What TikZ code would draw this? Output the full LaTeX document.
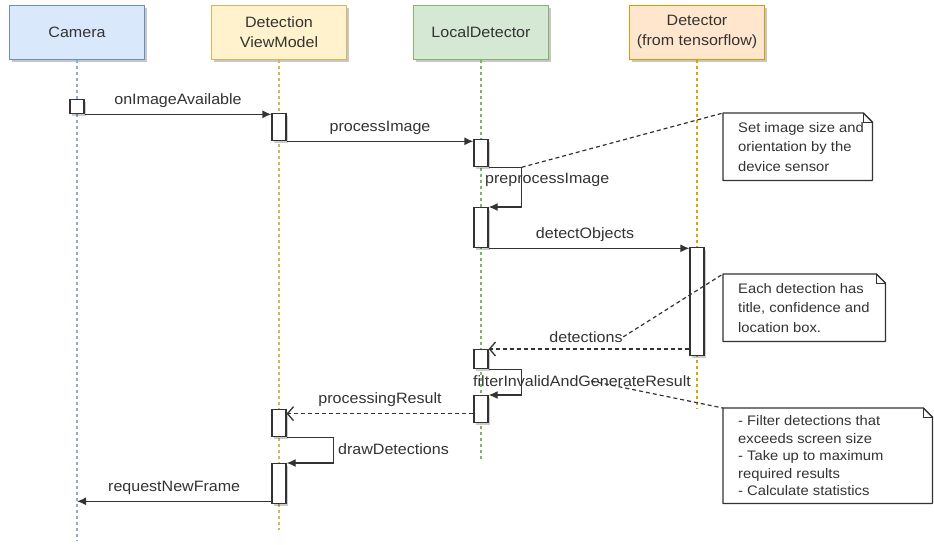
\documentclass[tikz,border=0pt]{standalone}
\usepackage{fontspec}
\setmainfont[FakeStretch=1.07]{Liberation Sans}
\usetikzlibrary{arrows.meta,shadows,calc,backgrounds}
\definecolor{ink}{HTML}{333333}
\definecolor{camfill}{HTML}{DAE8FC}\definecolor{camline}{HTML}{6C8EBF}
\definecolor{vmfill}{HTML}{FFF2CC}\definecolor{vmline}{HTML}{D6B656}
\definecolor{ldfill}{HTML}{D5E8D4}\definecolor{ldline}{HTML}{82B366}
\definecolor{dtfill}{HTML}{FFE6CC}\definecolor{dtline}{HTML}{D79B00}
\newcommand\mynote[1]{%
  \begin{scope}[on background layer]
    \fill[black,opacity=0.18] ([shift={(2.5pt,-2.5pt)}]#1.north west) -- ([shift={(-6.5pt,-2.5pt)}]#1.north east) -- ([shift={(2.5pt,-11.5pt)}]#1.north east) -- ([shift={(2.5pt,-2.5pt)}]#1.south east) -- ([shift={(2.5pt,-2.5pt)}]#1.south west) -- cycle;
    \fill[white] (#1.north west) -- ([xshift=-9pt]#1.north east) -- ([yshift=-9pt]#1.north east) -- (#1.south east) -- (#1.south west) -- cycle;
  \end{scope}
  \draw[ink, line width=1.3pt, line join=round] (#1.north west) -- ([xshift=-9pt]#1.north east) -- ([yshift=-9pt]#1.north east) -- (#1.south east) -- (#1.south west) -- cycle;
  \draw[ink, line width=0.8pt] ([xshift=-9pt]#1.north east) -- ([shift={(-9pt,-9pt)}]#1.north east) -- ([yshift=-9pt]#1.north east);
}
\tikzset{
  hdbox/.style={draw, line width=1pt, minimum width=135pt, minimum height=54pt, align=center, text=ink,
    font=\fontsize{15}{20}\selectfont,
    drop shadow={shadow xshift=2.5pt, shadow yshift=-2.5pt, opacity=0.22, fill=black}},
  actbox/.style={draw=ink, fill=white, line width=1.3pt, minimum width=14pt, inner sep=0pt, anchor=north,
    drop shadow={shadow xshift=2pt, shadow yshift=-2pt, opacity=0.2, fill=black}},
  msg/.style={draw=ink, line width=1.3pt, -{Latex[length=9pt,width=8pt]}},
  ret/.style={draw=ink, line width=1.3pt, dash pattern=on 4pt off 3pt, -{Straight Barb[length=6pt,width=14pt]}},
  lbl/.style={text=ink, font=\fontsize{15}{18}\selectfont, inner sep=0pt},
  lifeline/.style={line width=1.3pt, dash pattern=on 3pt off 3pt},
  notelink/.style={draw=ink, line width=1.2pt, dash pattern=on 4pt off 3pt},
  notebox/.style={anchor=north west, inner sep=0pt},
  notetext/.style={anchor=west, inner sep=0pt, align=left, text=ink, xshift=15pt},
}
\begin{document}
\begin{tikzpicture}[x=1pt, y=-1pt]
\useasboundingbox[fill=white] (0,0) rectangle (934,544);

% heads
\node[hdbox, fill=camfill, draw=camline] (cam) at (77,32) {Camera};
\node[hdbox, fill=vmfill, draw=vmline] (vm) at (279,32) {Detection\\ViewModel};
\node[hdbox, fill=ldfill, draw=ldline] (ld) at (481,32) {LocalDetector};
\node[hdbox, fill=dtfill, draw=dtline] (dt) at (697,32) {Detector\\(from tensorflow)};

% lifelines
\coordinate (camEnd) at (77,540);
\coordinate (vmEnd) at (279,530);
\coordinate (ldEnd) at (481,460);
\coordinate (dtEnd) at (697,408);
\draw[lifeline, camline!75] (cam) -- (camEnd);
\draw[lifeline, vmline] (vm) -- (vmEnd);
\draw[lifeline, ldline] (ld) -- (ldEnd);
\draw[lifeline, dtline!90!yellow] (dt) -- (dtEnd);

% activations
\node[actbox, minimum height=14pt] (a0) at (77,99) {};
\node[actbox, minimum height=27pt] (v1) at (279,113) {};
\node[actbox, minimum height=27pt] (l1) at (481,139) {};
\node[actbox, minimum height=40pt] (l2) at (481,207) {};
\node[actbox, minimum height=108pt] (d1) at (697,247) {};
\node[actbox, minimum height=19pt] (l3) at (481,349) {};
\node[actbox, minimum height=27pt] (l4) at (481,395) {};
\node[actbox, minimum height=27pt] (v2) at (279,409) {};
\node[actbox, minimum height=40pt] (v3) at (279,463) {};

% messages
\draw[msg] (a0.south east) -- (a0.south east -| v1.west)
  node[lbl, midway, above=6pt] (m1) {onImageAvailable};
\draw[msg] (v1.south east) -- (v1.south east -| l1.west)
  node[lbl, midway, above=6pt] (m2) {processImage};
\draw[msg] (l1.south east) -- ++(33,0) coordinate (ppc) |- (l2.north east);
\node[lbl, anchor=west] (ppL) at (485,180) {preprocessImage};
\draw[msg] (l2.south east) -- (l2.south east -| d1.west)
  node[lbl, midway, above=6pt, xshift=-4pt] (m3) {detectObjects};
\draw[ret] (l3.north east -| d1.west) -- (l3.north east)
  node[lbl, midway, above=6pt, xshift=-3pt] (detL) {detections};
\draw[msg] (l3.south east) -- ++(33,0) |- (l4.north east);
\node[lbl, anchor=west] (filtL) at (473,381) {filterInvalidAndGenerateResult};
\draw[ret] ([yshift=-4.5pt]l4.west) -- ([yshift=-4.5pt]l4.west -| v2.east)
  node[lbl, midway, above=6pt] (m4) {processingResult};
\draw[msg] (v2.south east) -- ++(47,0) |- (v3.north east);
\node[lbl, anchor=west] (ddL) at (338,449) {drawDetections};
\draw[msg] ([yshift=3pt]v3.south west) -- ([yshift=3pt]v3.south west -| camEnd)
  node[lbl, midway, above=6pt] (m5) {requestNewFrame};

% notes
\node[notebox, minimum width=149pt, minimum height=67pt] (n1) at (723,113) {};
\mynote{n1}
\node[notetext, font=\fontsize{13.8}{19.5}\selectfont] (n1t) at (n1.west)
  {Set image size and\\orientation by the\\device sensor};
\node[notebox, minimum width=162pt, minimum height=67pt] (n2) at (723,274) {};
\mynote{n2}
\node[notetext, font=\fontsize{13.8}{19.5}\selectfont] (n2t) at (n2.west)
  {Each detection has\\title, confidence and\\location box.};
\node[notebox, minimum width=209pt, minimum height=95pt] (n3) at (723,408) {};
\mynote{n3}
\node[notetext, font=\fontsize{13.8}{17.5}\selectfont] (n3t) at (n3.west)
  {- Filter detections that\\exceeds screen size\\- Take up to maximum\\required results\\- Calculate statistics};

% note links
\draw[notelink] (ppc) -- (n1.north west);
\draw[notelink] (detL.east) -- (n2.north west);
\draw[notelink] ([xshift=9pt]filtL.center) -- (n3.north west);
\end{tikzpicture}
\end{document}
